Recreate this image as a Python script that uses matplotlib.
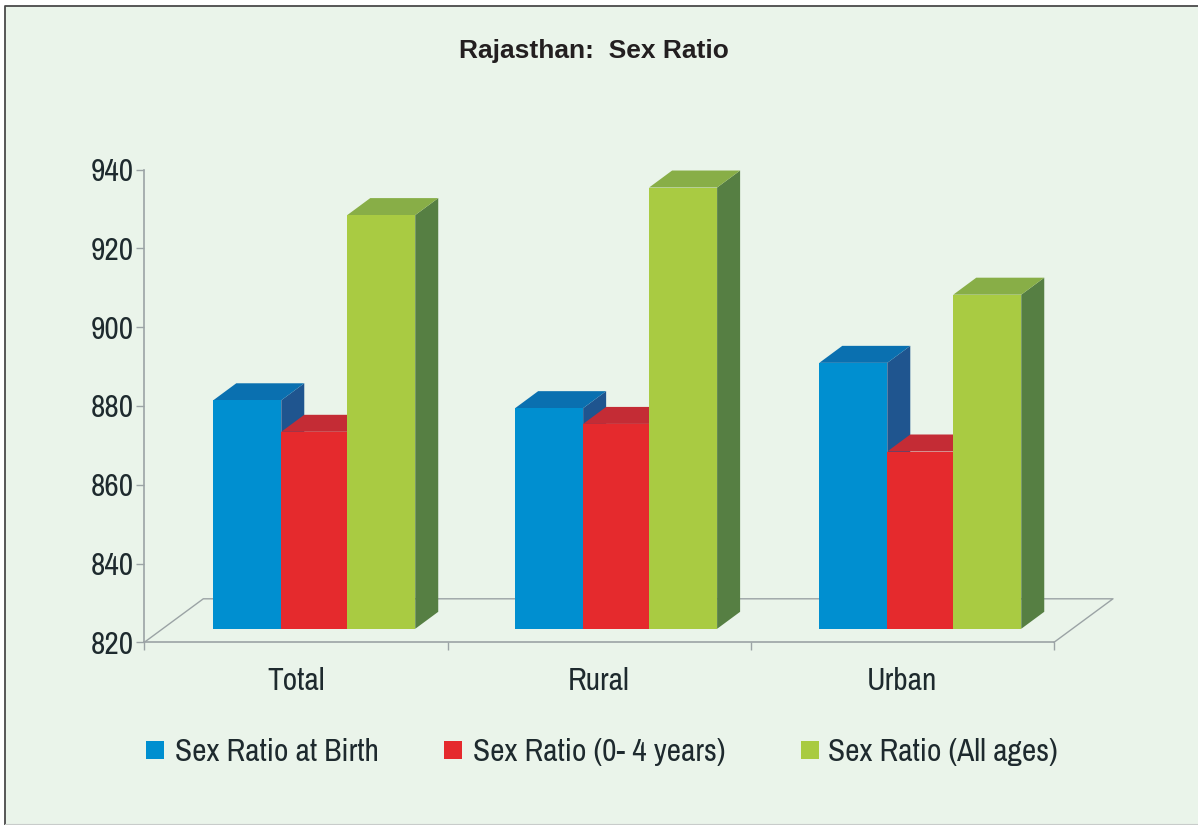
import matplotlib
matplotlib.use("Agg")
import matplotlib.pyplot as plt
from matplotlib import font_manager
from matplotlib.lines import Line2D
from matplotlib.patches import Polygon, Rectangle

categories = ["Total", "Rural", "Urban"]
birth = [878, 876, 887.5]
child = [870, 872, 865]
all_ages = [925, 932, 904.8]
series_names = ["Sex Ratio at Birth", "Sex Ratio (0- 4 years)", "Sex Ratio (All ages)"]
y_ticks = [820, 840, 860, 880, 900, 920, 940]

front_colors = ["#008FD0", "#E52A2D", "#A9CB42"]
top_colors = ["#0A70B0", "#C42C35", "#88AE47"]
side_colors = ["#1F558F", "#A82A33", "#567F43"]
bg_color = "#EAF4EA"
axis_color = "#9BA3A5"
text_color = "#1E2A2E"

# The reference uses a condensed Arial look, fall back to plain Liberation Sans at a smaller size
installed = {f.name for f in font_manager.fontManager.ttflist}
if "Archivo Narrow" in installed:
    font = "Archivo Narrow"
    label_size = 22.6
else:
    font = "Liberation Sans"
    label_size = 19

W, H = 1198, 825
fig = plt.figure(figsize=(W / 100, H / 100), dpi=100, facecolor="white")


def fx(px):
    return px / W


def fy(px):
    return 1 - px / H


# Panel behind the chart
fig.add_artist(Rectangle((fx(5), fy(824)), fx(1193), fy(5.5) - fy(824), transform=fig.transFigure,
                         facecolor=bg_color, edgecolor="none", zorder=-2))
fig.add_artist(Line2D([fx(5), fx(5), fx(1198)], [fy(825), fy(5.5), fy(5.5)], transform=fig.transFigure,
                      color="#4A4A4A", lw=1.3, zorder=-1))
fig.add_artist(Line2D([fx(5), fx(1198)], [fy(824), fy(824)], transform=fig.transFigure,
                      color="#C8CCCA", lw=0.8, zorder=-1))

ax = fig.add_axes([fx(144.3), fy(642.3), fx(909.7), fy(169.5) - fy(642.3)])
ax.patch.set_alpha(0)
ax.set_xlim(0, 3)
ax.set_ylim(820, 940)

# Size of one axis unit, used for the fake 3D depth
ux = 909.7 / 3
uy = 472.8 / 120
base = 13.5 / uy
dx = 23 / ux
dy = 17 / uy
floor_dx = 59 / ux
floor_dy = 43.5 / uy

# Floor
ax.plot([0, floor_dx, 3 + floor_dx, 3], [820, 820 + floor_dy, 820 + floor_dy, 820],
        color=axis_color, lw=1.0, clip_on=False, zorder=1)

bar_widths = [0.2242, 0.2176, 0.2242]
group_start = [0.2275, 1.223, 2.226]

z = 3
for i in range(len(categories)):
    values = [birth[i], child[i], all_ages[i]]
    left = group_start[i]
    for j, v in enumerate(values):
        right = left + bar_widths[j]
        top = v + base
        ax.add_patch(Polygon([(right, 820 + base), (right + dx, 820 + base + dy),
                              (right + dx, top + dy), (right, top)],
                             facecolor=side_colors[j], edgecolor="none", clip_on=False, zorder=z))
        ax.add_patch(Polygon([(left, top), (left + dx, top + dy), (right + dx, top + dy), (right, top)],
                             facecolor=top_colors[j], edgecolor="none", clip_on=False, zorder=z))
        ax.bar(left, v - 820, width=bar_widths[j], bottom=820 + base, align="edge",
               color=front_colors[j], linewidth=0, clip_on=False, zorder=z + 1)
        left = right
        z += 2

for s in ["top", "right"]:
    ax.spines[s].set_visible(False)
for s in ["left", "bottom"]:
    ax.spines[s].set_color(axis_color)
    ax.spines[s].set_linewidth(1.2)

ax.set_yticks(y_ticks)
ax.set_xticks([0, 1, 2, 3])
ax.set_xticklabels([])
ax.set_xticks([0.5, 1.5, 2.5], minor=True)
ax.set_xticklabels(categories, minor=True, family=font, fontsize=label_size, color=text_color)
ax.tick_params(axis="x", which="major", length=5.8, width=1, color=axis_color)
ax.tick_params(axis="x", which="minor", length=0, pad=18)
ax.tick_params(axis="y", length=5.8, width=1, color=axis_color, pad=2, labelsize=label_size, labelcolor=text_color)
for t in ax.get_yticklabels():
    t.set_family(font)

fig.text(fx(594), fy(51), "Rajasthan:  Sex Ratio", family="Liberation Sans", fontsize=19, fontweight="bold",
         color="#231F20", ha="center", va="center")

# Legend
square_x = [146, 444, 801]
text_x = [175, 473, 828]
for name, color, sx, tx in zip(series_names, front_colors, square_x, text_x):
    fig.add_artist(Rectangle((fx(sx), fy(759)), fx(18), fy(741) - fy(759), transform=fig.transFigure,
                             facecolor=color, edgecolor="none"))
    fig.text(fx(tx), fy(752), name, family=font, fontsize=label_size, color=text_color, ha="left", va="center")

fig.savefig("out.png", dpi=100, facecolor=fig.get_facecolor())
